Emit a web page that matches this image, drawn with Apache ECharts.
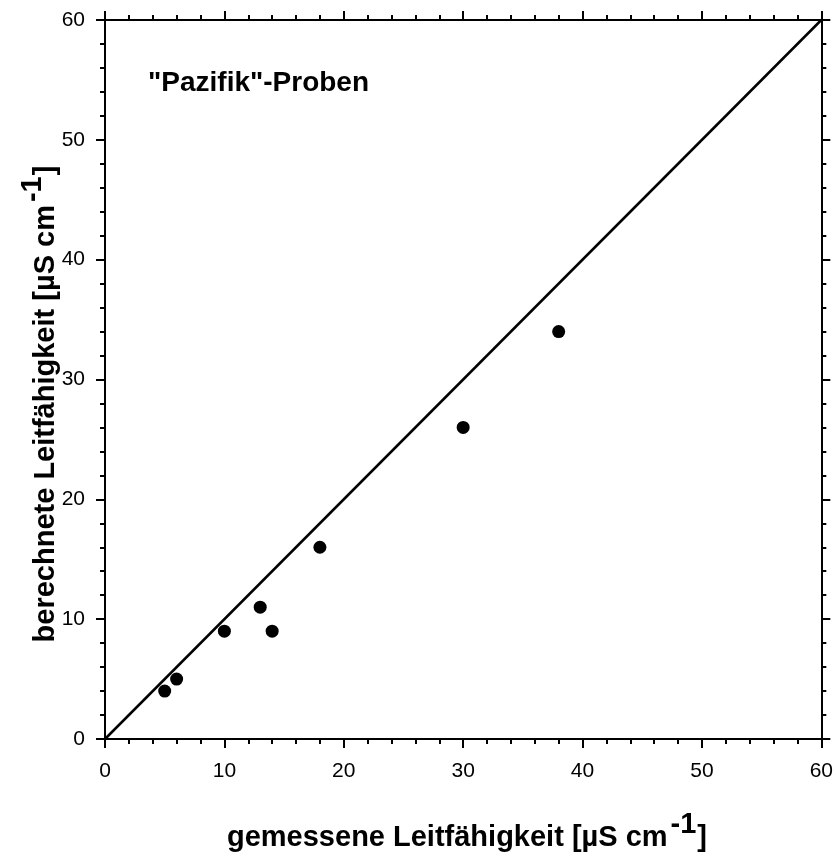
<!DOCTYPE html>
<html>
<head>
<meta charset="utf-8">
<script src="https://cdn.jsdelivr.net/npm/echarts@6/dist/echarts.min.js"></script>
<style>
  html, body { margin: 0; padding: 0; background: #fff; }
  #chart { width: 836px; height: 856px; }
</style>
</head>
<body>
<div id="chart"></div>
<script>
// Measured vs. calculated conductivity, Pacific samples
const measured = [5, 6, 10, 13, 14, 18, 30, 38];
const calculated = [4, 5, 9, 11, 9, 16, 26, 34];
const identityLine = [[0, 0], [60, 60]];
const axisMin = 0, axisMax = 60, axisStep = 10;

const FONT = 'Liberation Sans, Arial, sans-serif';
const points = measured.map((x, i) => [x, calculated[i]]);

const axisCommon = {
  type: 'value',
  min: axisMin,
  max: axisMax,
  interval: axisStep,
  axisLine: { show: true, onZero: false, lineStyle: { color: '#000', width: 2 } },
  axisTick: { show: true, inside: false, length: 9, lineStyle: { color: '#000', width: 2 } },
  minorTick: { show: true, splitNumber: 5, length: 5, lineStyle: { color: '#000', width: 2 } },
  splitLine: { show: false },
  minorSplitLine: { show: false }
};

const labelStyle = { color: '#000', fontFamily: FONT, fontSize: 21 };

// bold title with a raised "-1" exponent of the same size
const titleRich = {
  t: { font: 'bold 29px ' + FONT, fill: '#000', lineHeight: 40, verticalAlign: 'bottom' },
  s: { font: 'bold 29px ' + FONT, fill: '#000', lineHeight: 40, verticalAlign: 'bottom', padding: [0, 1, 13, 3] }
};

const chart = echarts.init(document.getElementById('chart'), null, { renderer: 'canvas' });
chart.setOption({
  backgroundColor: '#fff',
  animation: false,
  grid: { left: 105, right: 14, top: 20, bottom: 117, containLabel: false },
  xAxis: [
    Object.assign({}, axisCommon, { position: 'bottom', axisLabel: Object.assign({ margin: 22 }, labelStyle) }),
    Object.assign({}, axisCommon, { position: 'top', axisLabel: { show: false } })
  ],
  yAxis: [
    Object.assign({}, axisCommon, { position: 'left', axisLabel: Object.assign({ margin: 20 }, labelStyle) }),
    Object.assign({}, axisCommon, { position: 'right', axisLabel: { show: false } })
  ],
  graphic: [
    {
      type: 'text', left: 148, top: 69,
      style: { text: '"Pazifik"-Proben', font: 'bold 28px ' + FONT, fill: '#000' }
    },
    {
      type: 'text', x: 467, y: 832,
      style: {
        text: '{t|gemessene Leitfähigkeit [µS cm}{s|-1}{t|]}',
        align: 'center', verticalAlign: 'middle',
        rich: titleRich
      }
    },
    {
      type: 'text', x: 40, y: 404, rotation: Math.PI / 2,
      style: {
        text: '{t|berechnete Leitfähigkeit [µS cm}{s|-1}{t|]}',
        align: 'center', verticalAlign: 'middle',
        rich: titleRich
      }
    }
  ],
  series: [
    {
      type: 'line',
      data: identityLine,
      showSymbol: false,
      lineStyle: { color: '#000', width: 2.5 },
      z: 2
    },
    {
      type: 'scatter',
      data: points,
      symbol: 'circle',
      symbolSize: 13,
      itemStyle: { color: '#000', opacity: 1 },
      z: 3
    }
  ]
});
</script>
</body>
</html>
